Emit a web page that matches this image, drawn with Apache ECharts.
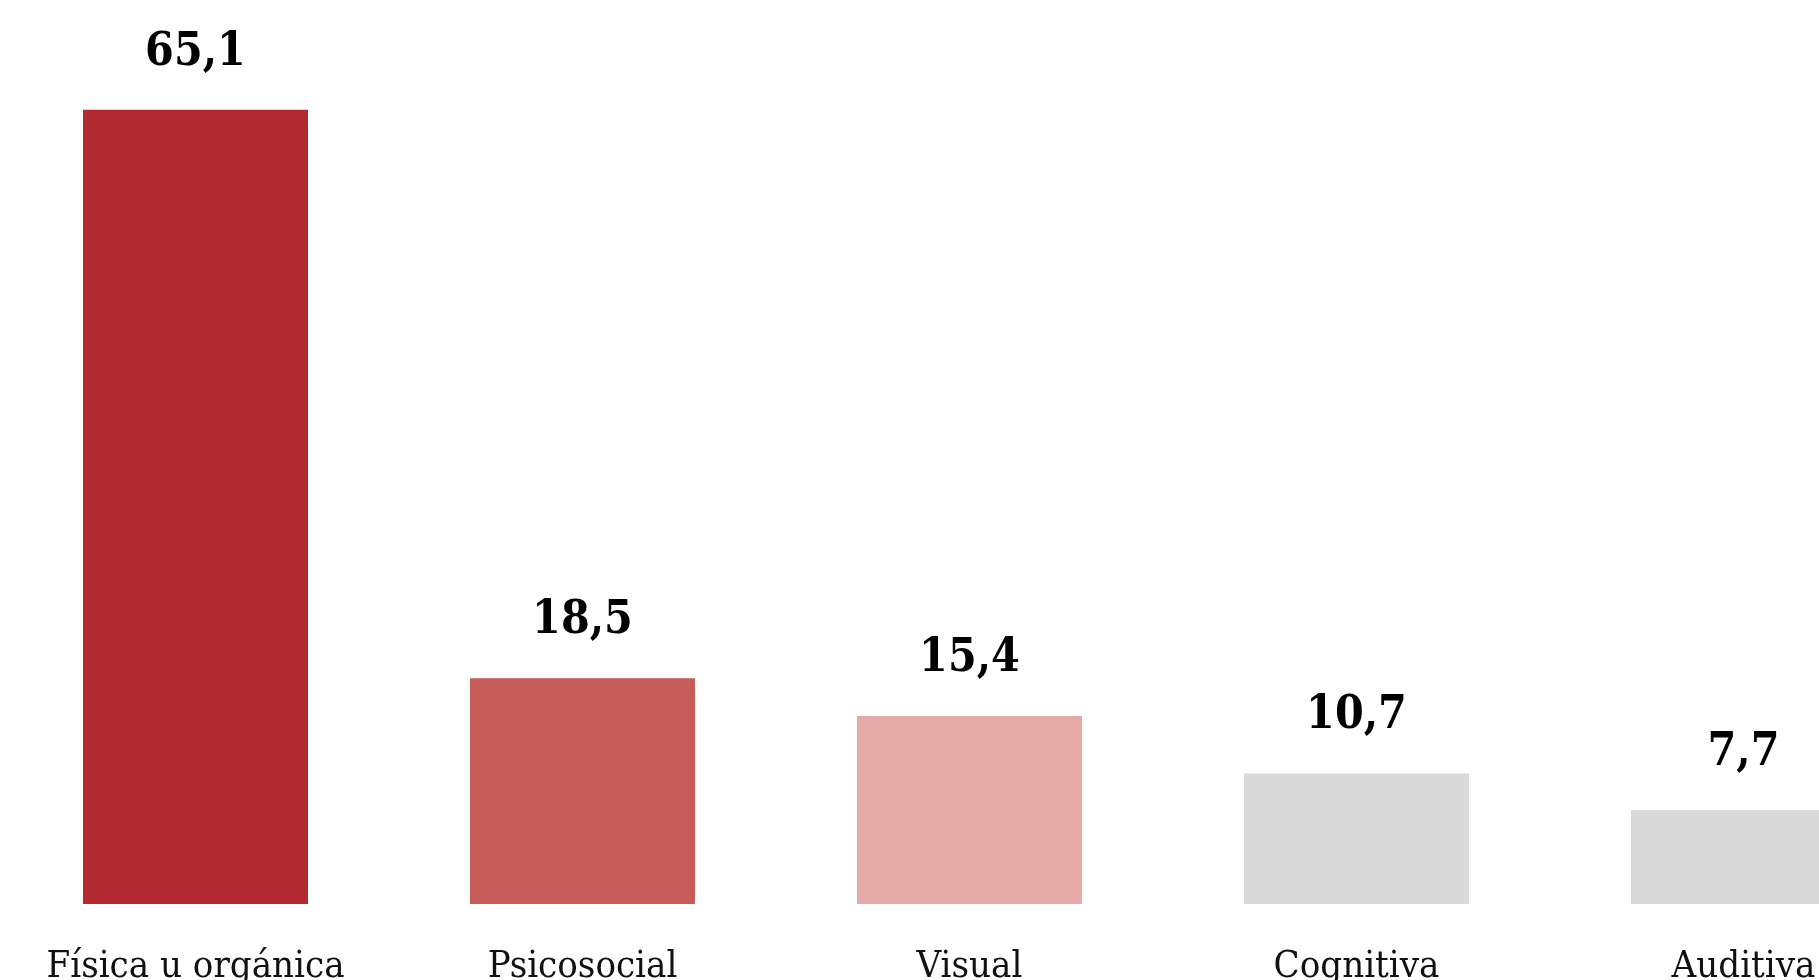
<!DOCTYPE html>
<html>
<head>
<meta charset="utf-8">
<script src="https://cdn.jsdelivr.net/npm/echarts@6/dist/echarts.min.js"></script>
<style>
  html, body { margin: 0; padding: 0; background: #fff; overflow: hidden; }
  /* el gráfico original queda recortado por la derecha */
  #chart { width: 1937px; height: 980px; }
</style>
</head>
<body>
<div id="chart"></div>
<script>
// datos
const categorias = ['Física u orgánica', 'Psicosocial', 'Visual', 'Cognitiva', 'Auditiva'];
const valores = [65.1, 18.5, 15.4, 10.7, 7.7];
const colores = ['#B2292F', '#C75B57', '#E6ABA6', '#D9D9D9', '#D9D9D9'];

const fuente = "'DejaVu Serif Condensed', 'DejaVu Serif', serif";

const chart = echarts.init(document.getElementById('chart'));
chart.setOption({
  backgroundColor: '#fff',
  animation: false,
  grid: { left: 2, right: 0, top: 50, bottom: 76, outerBoundsMode: 'none' },
  xAxis: {
    type: 'category',
    data: categorias,
    axisLine: { show: false },
    axisTick: { show: false },
    axisLabel: {
      interval: 0,
      margin: 44,
      color: '#111',
      fontFamily: fuente,
      fontSize: 38
    }
  },
  yAxis: {
    type: 'value',
    min: 0,
    max: 70,
    show: false
  },
  series: [{
    type: 'bar',
    barWidth: 225,
    data: valores.map((v, i) => ({ value: v, itemStyle: { color: colores[i] } })),
    label: {
      show: true,
      position: 'top',
      distance: 34,
      color: '#000',
      fontFamily: fuente,
      fontWeight: 'bold',
      fontSize: 46,
      formatter: p => String(p.value).replace('.', ',')
    }
  }]
});
</script>
</body>
</html>
